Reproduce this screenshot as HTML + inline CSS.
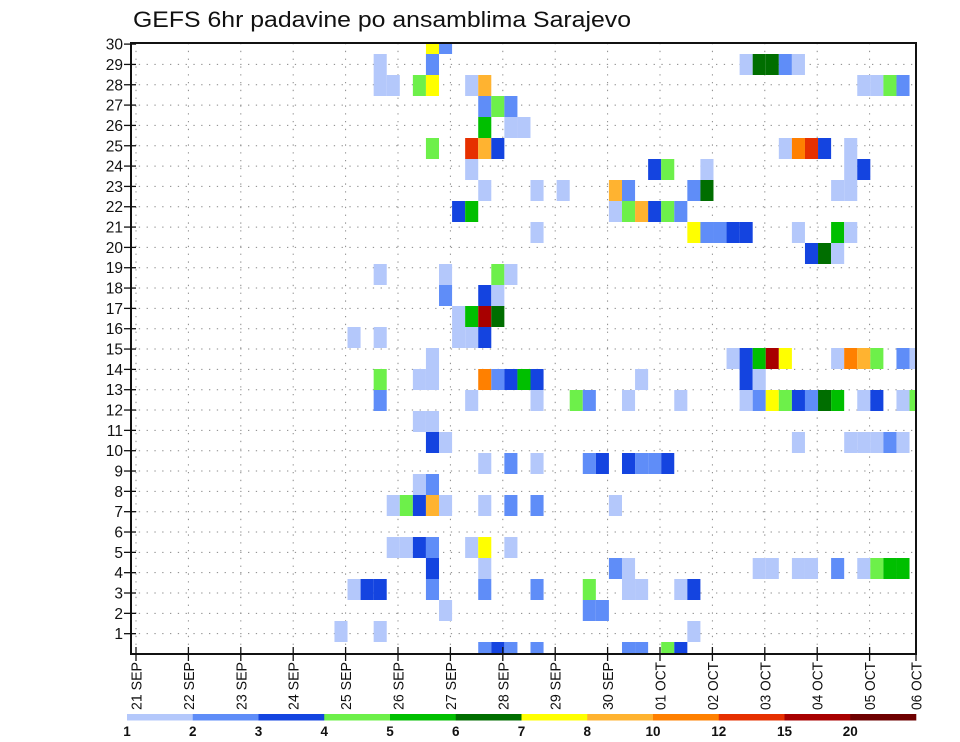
<!DOCTYPE html>
<html><head><meta charset="utf-8">
<style>
html,body{margin:0;padding:0;background:#fff;}
svg{display:block;font-family:"Liberation Sans",sans-serif;}
</style></head>
<body>
<svg id="chart" width="960" height="742" viewBox="0 0 960 742" xmlns="http://www.w3.org/2000/svg">
<text x="133" y="27" font-size="22" textLength="498" lengthAdjust="spacingAndGlyphs" fill="#111">GEFS 6hr padavine po ansamblima Sarajevo</text>
<g id="grid"></g>
<g id="cells"></g>
<g id="axes"></g>
<g id="legend"></g>
</svg>
<script>
// data: top-row index (0 = top row), 6-hour step index, precipitation value (mm)
const rowIdx = [0,0,
1,1,1,1,1,1,1,
2,2,2,2,2,2,2,2,2,2,
3,3,3,
4,4,4,
5,5,5,5,5,5,5,5,5,
6,6,6,6,6,6,
7,7,7,7,7,7,7,7,7,
8,8,8,8,8,8,8,8,
9,9,9,9,9,9,9,9,9,
10,10,10,
11,11,11,11,
12,12,12,
13,13,13,13,
14,14,14,14,14,
15,15,15,15,15,15,15,15,15,15,15,15,
16,16,16,16,16,16,16,16,16,16,16,
17,17,17,17,17,17,17,17,17,17,17,17,17,17,17,17,17,17,17,
18,18,
19,19,19,19,19,19,19,19,
20,20,20,20,20,20,20,20,20,
21,21,
22,22,22,22,22,22,22,22,22,
24,24,24,24,24,24,24,
25,25,25,25,25,25,25,25,25,25,25,25,25,
26,26,26,26,26,26,26,26,26,26,26,
27,27,27,
28,28,28,
29,29,29,29,29,29,29,29];
const stepIdx = [22,23,
18,22,46,47,48,49,50,
18,19,21,22,25,26,55,56,57,58,
26,27,28,
26,28,29,
22,25,26,27,49,50,51,52,54,
25,39,40,43,54,55,
26,30,32,36,37,42,43,53,54,
24,25,36,37,38,39,40,41,
30,42,43,44,45,46,50,53,54,
51,52,53,
18,23,27,28,
23,26,27,
24,25,26,27,
16,18,24,25,26,
22,45,46,47,48,49,53,54,55,56,58,59,
18,21,22,26,27,28,29,30,38,46,47,
18,25,30,33,34,37,41,46,47,48,49,50,51,52,53,55,56,58,59,
21,22,
22,23,50,54,55,56,57,58,
26,28,30,34,35,37,38,39,40,
21,22,
19,20,21,22,23,26,28,30,36,
19,20,21,22,25,26,28,
22,26,36,37,47,48,50,51,53,55,56,57,58,
16,17,18,22,26,30,34,37,38,41,42,
23,34,35,
15,18,42,
26,27,28,30,37,38,40,41];
const precip = [7.5,2.5,
1.5,2.5,1.5,6.5,6.5,2.5,1.5,
1.5,1.5,4.5,7.5,1.5,9,1.5,1.5,4.5,2.5,
2.5,4.5,2.5,
5.5,1.5,1.5,
4.5,13.5,9,3.5,1.5,11,13.5,3.5,1.5,
1.5,3.5,4.5,1.5,1.5,3.5,
1.5,1.5,1.5,9,2.5,2.5,6.5,1.5,1.5,
3.5,5.5,1.5,4.5,9,3.5,4.5,2.5,
1.5,7.5,2.5,2.5,3.5,3.5,1.5,5.5,1.5,
3.5,6.5,1.5,
1.5,1.5,4.5,1.5,
2.5,3.5,1.5,
1.5,5.5,17.5,6.5,
1.5,1.5,1.5,1.5,3.5,
1.5,1.5,3.5,5.5,17.5,7.5,1.5,11,9,4.5,2.5,1.5,
4.5,1.5,1.5,11,2.5,3.5,5.5,3.5,1.5,3.5,1.5,
2.5,1.5,1.5,4.5,2.5,1.5,1.5,1.5,2.5,7.5,4.5,3.5,2.5,6.5,5.5,1.5,3.5,1.5,4.5,
1.5,1.5,
3.5,1.5,1.5,1.5,1.5,1.5,2.5,1.5,
1.5,2.5,1.5,2.5,3.5,3.5,2.5,2.5,3.5,
1.5,2.5,
1.5,4.5,3.5,9,1.5,1.5,2.5,2.5,1.5,
1.5,1.5,3.5,2.5,1.5,7.5,1.5,
3.5,1.5,2.5,1.5,1.5,1.5,1.5,1.5,2.5,1.5,4.5,5.5,5.5,
1.5,3.5,3.5,2.5,2.5,2.5,4.5,1.5,1.5,1.5,3.5,
1.5,2.5,2.5,
1.5,1.5,1.5,
2.5,3.5,2.5,2.5,2.5,2.5,4.5,3.5];
const levels = [1,2,3,4,5,6,7,8,10,12,15,20];
const levelColors = ["#b4c8fb","#5f8df8","#1444e0","#6df04a","#00bf00","#006e00","#ffff00","#ffb330","#ff8000","#e63000","#a80000","#6e0000"];
const dayLabels = ["21 SEP","22 SEP","23 SEP","24 SEP","25 SEP","26 SEP","27 SEP","28 SEP","29 SEP","30 SEP","01 OCT","02 OCT","03 OCT","04 OCT","05 OCT","06 OCT"];
const memberTicks = [1,2,3,4,5,6,7,8,9,10,11,12,13,14,15,16,17,18,19,20,21,22,23,24,25,26,27,28,29,30];

const NS = "http://www.w3.org/2000/svg";
const L = 131, R = 916, T = 43, B = 654;
function xStep(s){ return 138.4 + s * 13.07; }
const stepW = 13.07;
function yRow(k){ return 33 + k * 21; }
const rowH = 21;
function xDay(d){ return Math.min(136 + d * 52.4, R); }
function yMember(m){ return B - m * 20.33; }
function colorFor(v){ let i = 0; for (let j = 0; j < levels.length; j++) if (v >= levels[j]) i = j; return levelColors[i]; }
function mk(tag, attrs, parent){ const e = document.createElementNS(NS, tag); for (const k in attrs) e.setAttribute(k, attrs[k]); parent.appendChild(e); return e; }

const grid = document.getElementById("grid");
memberTicks.forEach(m => {
  if (m >= 30) return;
  const ln = mk("line", {x1:L, x2:R, y1:yMember(m), y2:yMember(m), stroke:"#888", "stroke-width":1, "stroke-dasharray":"1.3,6.5"}, grid);
  
  
});
dayLabels.forEach((d, i) => {
  const x = xDay(i);
  if (x >= R) return;
  const ln = mk("line", {x1:x, x2:x, y1:T, y2:B, stroke:"#888", "stroke-width":1, "stroke-dasharray":"1.3,6.5"}, grid);
  
  
});

const cells = document.getElementById("cells");
for (let i = 0; i < precip.length; i++) {
  let x = xStep(stepIdx[i]), w = stepW, y = yRow(rowIdx[i]), h = rowH;
  const x2 = Math.min(x + w, R), y2 = Math.min(y + h, B);
  x = Math.max(x, L); y = Math.max(y, T);
  const r = mk("rect", {x:x, y:y, width:Math.max(0, x2 - x), height:Math.max(0, y2 - y), fill:colorFor(precip[i])}, cells);
  
  
}

const axes = document.getElementById("axes");
const frame = mk("rect", {x:L, y:T, width:R - L, height:B - T, fill:"none", stroke:"#111", "stroke-width":2}, axes);


memberTicks.forEach(m => {
  const y = yMember(m);
  const t = mk("line", {x1:L - 7, x2:L + 5, y1:y, y2:y, stroke:"#111", "stroke-width":1.3}, axes);
  
  
  const tx = mk("text", {x:L - 8, y:y + 5.5, "font-size":15.5, "text-anchor":"end", fill:"#111"}, axes);
  tx.textContent = m;
  
  
});
dayLabels.forEach((d, i) => {
  const x = xDay(i);
  const t = mk("line", {x1:x, x2:x, y1:B - 7, y2:B + 7, stroke:"#111", "stroke-width":1.3}, axes);
  
  
  const tx = mk("text", {x:0, y:0, "font-size":15, "text-anchor":"end", textLength:48, lengthAdjust:"spacingAndGlyphs", fill:"#111", transform:"translate(" + (x + 5.5) + "," + (B + 8) + ") rotate(-90)"}, axes);
  tx.textContent = d;
  
  
});

const legend = document.getElementById("legend");
const lx0 = 127, lx1 = 916, segW = (lx1 - lx0) / levelColors.length;
levelColors.forEach((c, i) => {
  const r = mk("rect", {x:lx0 + i * segW, y:714, width:segW + 0.3, height:6.5, fill:c}, legend);
  
  
});
levels.forEach((v, i) => {
  const tx = mk("text", {x:lx0 + i * segW, y:736, "font-size":13.5, "font-weight":"bold", "text-anchor":"middle", fill:"#111"}, legend);
  tx.textContent = v;
  
  
});
</script>
</body></html>
